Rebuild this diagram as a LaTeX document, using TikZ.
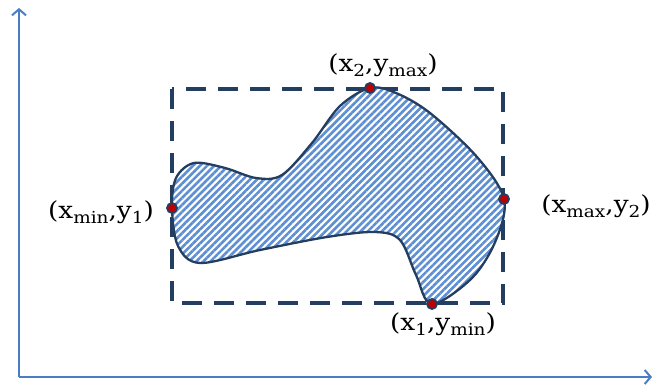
\documentclass[tikz,border=0pt]{standalone}
\usepackage{fontspec}
\usepackage{graphicx}
\newfontfamily\labfont{DejaVu Serif}
\usetikzlibrary{arrows.meta,patterns.meta}
\definecolor{axisblue}{HTML}{4A7EC4}
\definecolor{navy}{HTML}{233E60}
\definecolor{stripe}{HTML}{5E8FD2}
\definecolor{dotred}{HTML}{C00000}
\newcommand{\sub}[1]{\raisebox{-0.22em}{\fontsize{16.5}{18}\selectfont #1}}
\newcommand{\lbl}[1]{\scalebox{1.12}[1]{#1}}
\tikzset{
  axis/.style={draw=axisblue,line width=2pt,-{Straight Barb[length=6pt,width=14pt,line width=2pt]}},
  bbox/.style={draw=navy,line width=3.5pt,dash pattern=on 20pt off 12pt},
  blob/.style={draw=navy,line width=2.3pt,pattern={Lines[angle=45,distance=5pt,line width=2.6pt]},pattern color=stripe},
  dot/.style={circle,fill=dotred,draw=navy,line width=1.8pt,minimum size=10pt,inner sep=0pt},
  lab/.style={font=\labfont\fontsize{23.5}{26}\selectfont,inner sep=0pt}
}
\begin{document}
\begin{tikzpicture}[x=1pt,y=-1pt]
\useasboundingbox (0,0) rectangle (657,387);
\coordinate (O) at (19,377);
\coordinate (Ytop) at (19,8);
\coordinate (Xend) at (652,377);
\draw[axis] (O) -- (Ytop);
\draw[axis] (O) -- (Xend);
\coordinate (R1) at (172,89);
\coordinate (R2) at (503,303);
\draw[bbox] (R1) rectangle (R2);
\coordinate (L) at (172,208);
\coordinate (T) at (370,88);
\coordinate (Rt) at (504,199);
\coordinate (B) at (432,304);
\def\blobpts{(172,208) (176,178) (194,163) (225,168) (256,178) (282,175) (312,143) (340,106) (370,88)
 (396,93) (430,113) (477,157) (504,199) (496,240) (472,278) (432,304)
 (416,275) (400,240) (375,232) (327,237) (260,250) (200,263) (178,246)}
\fill[white] plot[smooth cycle,tension=0.55] coordinates {\blobpts};
\path[blob] plot[smooth cycle,tension=0.55] coordinates {\blobpts};
\node[dot] (pL) at (L) {};
\node[dot] (pT) at (T) {};
\node[dot] (pR) at (Rt) {};
\node[dot] (pB) at (B) {};
\node[lab] (tL) at (101,212) {\lbl{(x\sub{min},y\sub{1})}};
\node[lab] (tT) at (383,65) {\lbl{(x\sub{2},y\sub{max})}};
\node[lab] (tR) at (596,206) {\lbl{(x\sub{max},y\sub{2})}};
\node[lab] (tB) at (443,324) {\lbl{(x\sub{1},y\sub{min})}};
\end{tikzpicture}
\end{document}
